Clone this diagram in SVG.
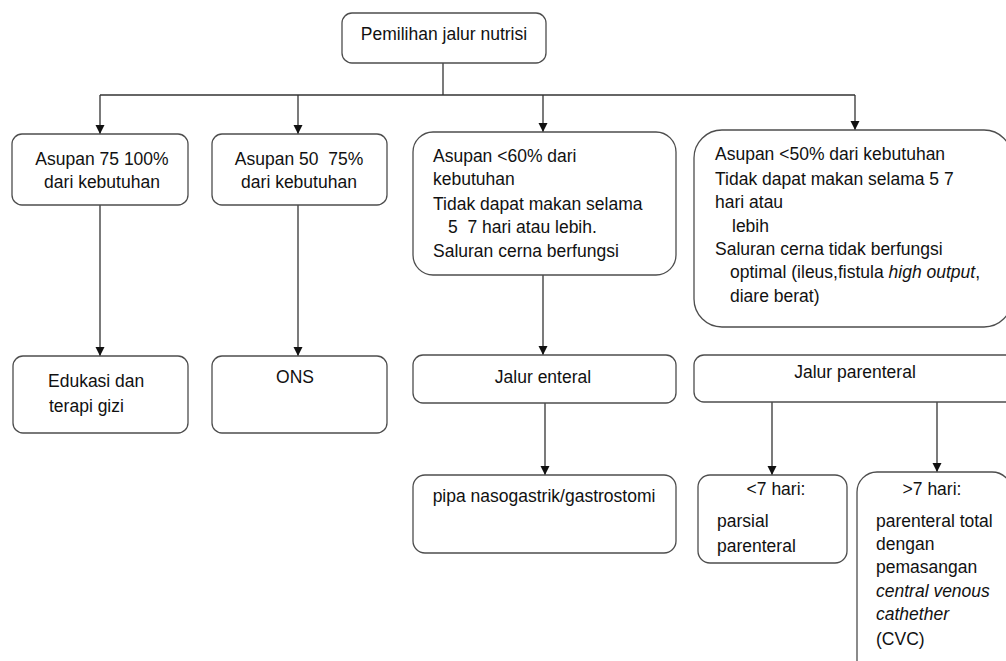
<svg xmlns="http://www.w3.org/2000/svg" width="1006" height="661" viewBox="0 0 1006 661">
<style>
.b{fill:#fff;stroke:#4d4d4d;stroke-width:1.3}
.c{fill:none;stroke:#333;stroke-width:1.3}
text{font-family:"Liberation Sans",Arial,sans-serif;font-size:17.5px;fill:#111;white-space:pre}
.m{text-anchor:middle}
.i{font-style:italic}
</style>
<defs>
<marker id="ah" markerWidth="10" markerHeight="10" refX="9" refY="5" orient="auto" markerUnits="userSpaceOnUse">
<path d="M0,0.5 L9,5 L0,9.5 Z" fill="#111"/>
</marker>
</defs>
<rect width="1006" height="661" fill="#fff"/>
<g id="connectors">
<path class="c" d="M443,63 V95"/>
<path class="c" d="M100,95 H855"/>
<path class="c" d="M100,95 V134" marker-end="url(#ah)"/>
<path class="c" d="M298,95 V134" marker-end="url(#ah)"/>
<path class="c" d="M543,95 V132" marker-end="url(#ah)"/>
<path class="c" d="M855,95 V130" marker-end="url(#ah)"/>
<path class="c" d="M100,205 V356" marker-end="url(#ah)"/>
<path class="c" d="M298,205 V356" marker-end="url(#ah)"/>
<path class="c" d="M543,275 V355" marker-end="url(#ah)"/>
<path class="c" d="M545,403 V475" marker-end="url(#ah)"/>
<path class="c" d="M772,402 V475" marker-end="url(#ah)"/>
<path class="c" d="M937,402 V472" marker-end="url(#ah)"/>
</g>
<g id="root">
<rect class="b" x="342" y="13" width="204" height="50" rx="10"/>
<text class="m" x="444" y="40">Pemilihan jalur nutrisi</text>
</g>
<g id="n1">
<rect class="b" x="12" y="134" width="176" height="71" rx="10"/>
<text class="m" x="102" y="165">Asupan 75 100%</text>
<text class="m" x="102" y="188">dari kebutuhan</text>
</g>
<g id="n2">
<rect class="b" x="212" y="134" width="175" height="71" rx="10"/>
<text class="m" x="299" y="165">Asupan 50  75%</text>
<text class="m" x="299" y="188">dari kebutuhan</text>
</g>
<g id="n3">
<rect class="b" x="413" y="132" width="263" height="143" rx="20"/>
<text x="433" y="162">Asupan &lt;60% dari</text>
<text x="433" y="185">kebutuhan</text>
<text x="433" y="210">Tidak dapat makan selama</text>
<text x="448" y="233">5  7 hari atau lebih.</text>
<text x="433" y="257">Saluran cerna berfungsi</text>
</g>
<g id="n4">
<rect class="b" x="694" y="130" width="318" height="197" rx="28"/>
<text x="715" y="160">Asupan &lt;50% dari kebutuhan</text>
<text x="715" y="185">Tidak dapat makan selama 5 7</text>
<text x="715" y="208">hari atau</text>
<text x="732" y="232">lebih</text>
<text x="715" y="255">Saluran cerna tidak berfungsi</text>
<text x="730" y="278">optimal (ileus,fistula <tspan class="i">high output</tspan>,</text>
<text x="730" y="302">diare berat)</text>
</g>
<g id="n5">
<rect class="b" x="13" y="356" width="175" height="77" rx="10"/>
<text x="48" y="387">Edukasi dan</text>
<text x="49" y="412">terapi gizi</text>
</g>
<g id="n6">
<rect class="b" x="212" y="356" width="175" height="77" rx="10"/>
<text class="m" x="295" y="383">ONS</text>
</g>
<g id="n7">
<rect class="b" x="413" y="355" width="263" height="48" rx="10"/>
<text class="m" x="543" y="383">Jalur enteral</text>
</g>
<g id="n8">
<rect class="b" x="694" y="355" width="330" height="47" rx="10"/>
<text class="m" x="855" y="378">Jalur parenteral</text>
</g>
<g id="n9">
<rect class="b" x="413" y="475" width="263" height="78" rx="12"/>
<text class="m" x="544" y="502">pipa nasogastrik/gastrostomi</text>
</g>
<g id="n10">
<rect class="b" x="698" y="475" width="149" height="88" rx="12"/>
<text class="m" x="776" y="495">&lt;7 hari:</text>
<text x="717" y="527">parsial</text>
<text x="717" y="552">parenteral</text>
</g>
<g id="n11">
<rect class="b" x="857" y="472" width="155" height="210" rx="20"/>
<text class="m" x="932" y="495">&gt;7 hari:</text>
<text x="876" y="527">parenteral total</text>
<text x="876" y="550">dengan</text>
<text x="876" y="573">pemasangan</text>
<text class="i" x="876" y="597">central venous</text>
<text class="i" x="876" y="620">cathether</text>
<text x="876" y="645">(CVC)</text>
</g>
</svg>
